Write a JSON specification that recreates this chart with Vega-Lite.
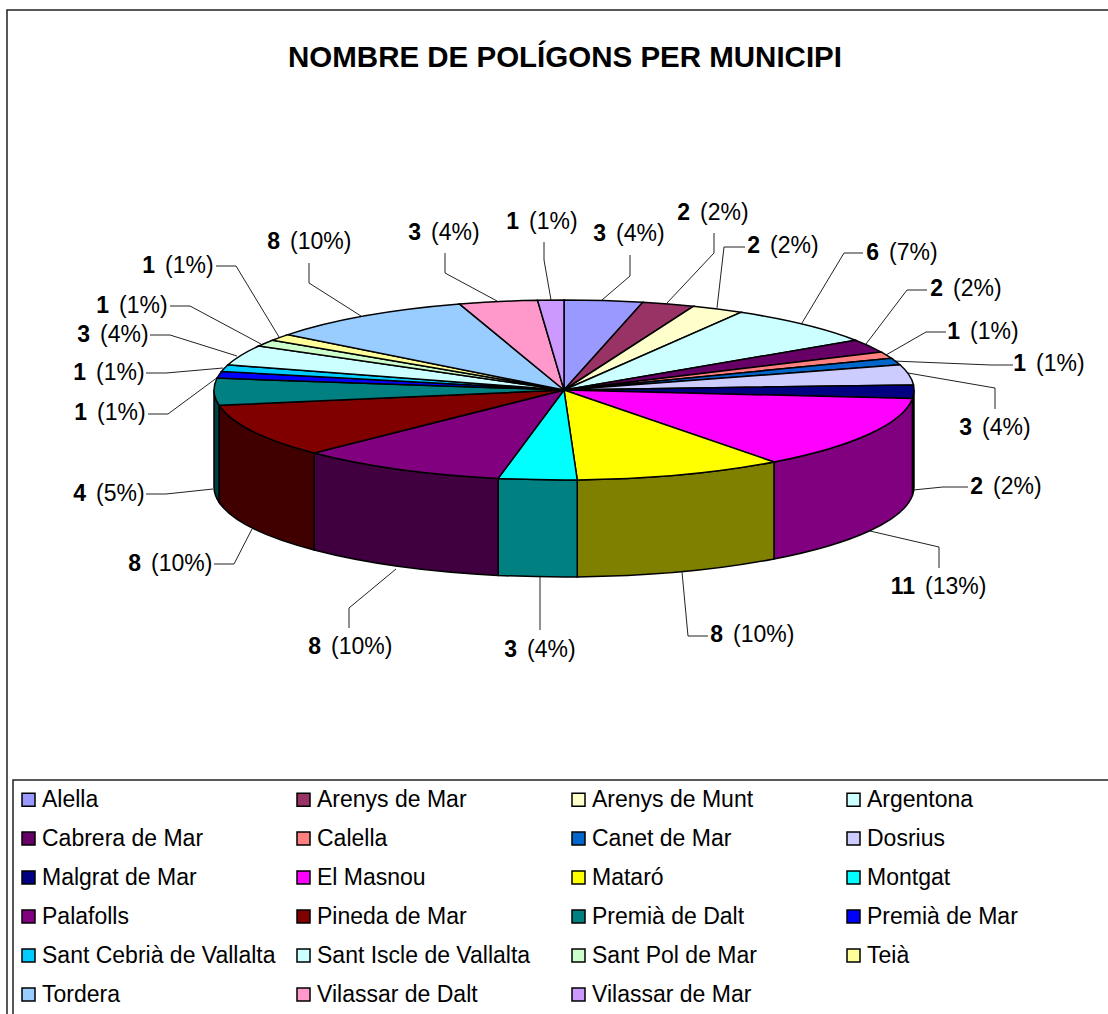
{
"$schema":"https://vega.github.io/schema/vega-lite/v6.json",
"width":1108,"height":1014,"padding":0,"autosize":{"type":"none"},"background":"white",
"config":{"view":{"stroke":null},"text":{"font":"Liberation Sans"}},
"title":{"text":"NOMBRE DE POLÍGONS PER MUNICIPI","font":"Liberation Sans","fontSize":29.5,"fontWeight":"bold","color":"black","anchor":"middle","frame":"group","baseline":"alphabetic","offset":-96,"dx":11},
"data":{"values":[
{"ordre":0,"municipi":"Alella","poligons":3},
{"ordre":1,"municipi":"Arenys de Mar","poligons":2},
{"ordre":2,"municipi":"Arenys de Munt","poligons":2},
{"ordre":3,"municipi":"Argentona","poligons":6},
{"ordre":4,"municipi":"Cabrera de Mar","poligons":2},
{"ordre":5,"municipi":"Calella","poligons":1},
{"ordre":6,"municipi":"Canet de Mar","poligons":1},
{"ordre":7,"municipi":"Dosrius","poligons":3},
{"ordre":8,"municipi":"Malgrat de Mar","poligons":2},
{"ordre":9,"municipi":"El Masnou","poligons":11},
{"ordre":10,"municipi":"Mataró","poligons":8},
{"ordre":11,"municipi":"Montgat","poligons":3},
{"ordre":12,"municipi":"Palafolls","poligons":8},
{"ordre":13,"municipi":"Pineda de Mar","poligons":8},
{"ordre":14,"municipi":"Premià de Dalt","poligons":4},
{"ordre":15,"municipi":"Premià de Mar","poligons":1},
{"ordre":16,"municipi":"Sant Cebrià de Vallalta","poligons":1},
{"ordre":17,"municipi":"Sant Iscle de Vallalta","poligons":3},
{"ordre":18,"municipi":"Sant Pol de Mar","poligons":1},
{"ordre":19,"municipi":"Teià","poligons":1},
{"ordre":20,"municipi":"Tordera","poligons":8},
{"ordre":21,"municipi":"Vilassar de Dalt","poligons":3},
{"ordre":22,"municipi":"Vilassar de Mar","poligons":1}
]},
"transform":[
{"stack":"poligons","sort":[{"field":"ordre"}],"as":["p0","p1"]},
{"joinaggregate":[{"op":"sum","field":"poligons","as":"total"}]},
{"calculate":"'(' + round(datum.poligons/datum.total*100) + '%)'","as":"pct"},
{"calculate":"datum.p0/datum.total*2*PI","as":"a0"},
{"calculate":"datum.p1/datum.total*2*PI","as":"a1"},
{"calculate":"'M564,390L'+round((564+350*sin(datum.a0))*100)/100+','+round((390-90*cos(datum.a0))*100)/100+'A350,90,0,0,1,'+round((564+350*sin(datum.a1))*100)/100+','+round((390-90*cos(datum.a1))*100)/100+'Z'","as":"tall"},
{"calculate":"max(datum.a0,PI/2)","as":"s0"},
{"calculate":"min(datum.a1,3*PI/2)","as":"s1"},
{"calculate":"datum.s1>datum.s0 ? 'M'+round((564+350*sin(datum.s0))*100)/100+','+round((390-90*cos(datum.s0))*100)/100+'A350,90,0,0,1,'+round((564+350*sin(datum.s1))*100)/100+','+round((390-90*cos(datum.s1))*100)/100+'L'+round((564+350*sin(datum.s1))*100)/100+','+round((487-90*cos(datum.s1))*100)/100+'A350,90,0,0,0,'+round((564+350*sin(datum.s0))*100)/100+','+round((487-90*cos(datum.s0))*100)/100+'Z' : 'M0,0'","as":"lateral"}
],
"layer":[
{"mark":{"type":"rect","fill":null,"stroke":"#222222","strokeWidth":1.5},
 "encoding":{
 "x":{"datum":7,"type":"quantitative","scale":{"domain":[0,1108],"range":[0,1108]},"axis":null},
 "x2":{"datum":1130},
 "y":{"datum":10,"type":"quantitative","scale":{"domain":[0,1014],"range":[0,1014]},"axis":null},
 "y2":{"datum":1030}},
 "transform":[{"filter":"datum.ordre==0"}]},
{"mark":{"type":"rect","fill":"white","stroke":"#222222","strokeWidth":1.5},
 "encoding":{
 "x":{"datum":13,"type":"quantitative","scale":{"domain":[0,1108],"range":[0,1108]},"axis":null},
 "x2":{"datum":1130},
 "y":{"datum":780,"type":"quantitative","scale":{"domain":[0,1014],"range":[0,1014]},"axis":null},
 "y2":{"datum":1030}},
 "transform":[{"filter":"datum.ordre==0"}]},
{"mark":{"type":"point","filled":false,"opacity":1,"stroke":"#222222","strokeWidth":1},
 "encoding":{
 "x":{"datum":0,"type":"quantitative","scale":{"domain":[0,1108],"range":[0,1108]},"axis":null},
 "y":{"datum":0,"type":"quantitative","scale":{"domain":[0,1014],"range":[0,1014]},"axis":null},
 "size":{"value":4},
 "shape":{"field":"municipi","type":"nominal","legend":null,"scale":{
  "domain":["Alella","Arenys de Mar","Arenys de Munt","Argentona","Cabrera de Mar","Calella","Canet de Mar","Dosrius","Malgrat de Mar","El Masnou","Mataró","Montgat","Palafolls","Pineda de Mar","Premià de Dalt","Premià de Mar","Sant Cebrià de Vallalta","Sant Iscle de Vallalta","Sant Pol de Mar","Teià","Tordera","Vilassar de Dalt","Vilassar de Mar"],
  "range":["M630,255L630,276L602,300","M714,233L714,253L667,303","M745,247L724,247L717,308","M863,253L844,253L802,323","M927,290L907,290L866,344","M946,332L926,332L886,355","M1013,365L991,365L893,361","M995,409L995,388L908,373","M968,487L943,487L913,490","M939,568L939,547L870,531","M708,636L688,636L682,572","M540,630L540,610L540,577","M349,628L349,608L396,569","M214,564L234,564L252,529","M146,494L166,494L213,489","M148,414L168,414L218,377","M146,373L166,373L223,368","M150,335L170,335L237,356","M170,306L190,306L261,344","M216,266L236,266L279,337","M309,263L309,283L361,316","M445,253L445,273L497,301","M544,242L544,260L551,300"]}}}},
{"transform":[{"filter":"datum.s1>datum.s0"}],
 "mark":{"type":"point","filled":true,"opacity":1,"stroke":"black","strokeWidth":1.5},
 "encoding":{
 "x":{"datum":0,"type":"quantitative","scale":{"domain":[0,1108],"range":[0,1108]},"axis":null},
 "y":{"datum":0,"type":"quantitative","scale":{"domain":[0,1014],"range":[0,1014]},"axis":null},
 "size":{"value":4},
 "order":{"field":"ordre"},
 "shape":{"field":"lateral","type":"nominal","scale":null,"legend":null},
 "fill":{"field":"municipi","type":"nominal","legend":null,"scale":{
  "domain":["Alella","Arenys de Mar","Arenys de Munt","Argentona","Cabrera de Mar","Calella","Canet de Mar","Dosrius","Malgrat de Mar","El Masnou","Mataró","Montgat","Palafolls","Pineda de Mar","Premià de Dalt","Premià de Mar","Sant Cebrià de Vallalta","Sant Iscle de Vallalta","Sant Pol de Mar","Teià","Tordera","Vilassar de Dalt","Vilassar de Mar"],
  "range":["#4C4C80","#4D1A33","#808066","#668080","#330033","#804040","#003366","#666680","#000040","#800080","#808000","#008080","#400040","#400000","#004040","#000080","#006680","#668080","#668066","#80804D","#4D6680","#804D66","#664D80"]}}}},
{"mark":{"type":"point","filled":true,"opacity":1,"stroke":"black","strokeWidth":1.5},
 "encoding":{
 "x":{"datum":0,"type":"quantitative","scale":{"domain":[0,1108],"range":[0,1108]},"axis":null},
 "y":{"datum":0,"type":"quantitative","scale":{"domain":[0,1014],"range":[0,1014]},"axis":null},
 "size":{"value":4},
 "order":{"field":"ordre"},
 "shape":{"field":"tall","type":"nominal","scale":null,"legend":null},
 "fill":{"field":"municipi","type":"nominal","scale":{
  "domain":["Alella","Arenys de Mar","Arenys de Munt","Argentona","Cabrera de Mar","Calella","Canet de Mar","Dosrius","Malgrat de Mar","El Masnou","Mataró","Montgat","Palafolls","Pineda de Mar","Premià de Dalt","Premià de Mar","Sant Cebrià de Vallalta","Sant Iscle de Vallalta","Sant Pol de Mar","Teià","Tordera","Vilassar de Dalt","Vilassar de Mar"],
  "range":["#9999FF","#993366","#FFFFCC","#CCFFFF","#660066","#FF8080","#0066CC","#CCCCFF","#000080","#FF00FF","#FFFF00","#00FFFF","#800080","#800000","#008080","#0000FF","#00CCFF","#CCFFFF","#CCFFCC","#FFFF99","#99CCFF","#FF99CC","#CC99FF"]},
  "legend":{"orient":"none","legendX":17,"legendY":788,"direction":"horizontal","columns":4,"title":null,"gridAlign":"all","columnPadding":16,"rowPadding":15,"symbolType":"square","symbolSize":169,"symbolStrokeColor":"black","symbolStrokeWidth":1.5,"symbolOpacity":1,"labelFont":"Liberation Sans","labelFontSize":23,"labelColor":"black","labelLimit":300,"labelOffset":2,"padding":0}}}},
{"mark":{"type":"text","align":"right","baseline":"middle","fontWeight":"bold","fontSize":23,"font":"Liberation Sans","dx":-5,"color":"black"},
 "encoding":{
 "x":{"field":"ordre","type":"quantitative","axis":null,"scale":{"zero":false,"nice":false,"domain":[0,1,2,3,4,5,6,7,8,9,10,11,12,13,14,15,16,17,18,19,20,21,22],"range":[611,695,765,884,948,965,1031,977,988,920,728,522,326,146,91,92,91,95,114,160,285,426,524]}},
 "y":{"field":"ordre","type":"quantitative","axis":null,"scale":{"zero":false,"nice":false,"domain":[0,1,2,3,4,5,6,7,8,9,10,11,12,13,14,15,16,17,18,19,20,21,22],"range":[234,213,246,253,289,332,364,428,487,587,635,650,647,564,494,413,373,335,306,266,242,233,222]}},
 "text":{"field":"poligons","type":"quantitative"}}},
{"mark":{"type":"text","align":"left","baseline":"middle","fontSize":23,"font":"Liberation Sans","dx":5,"color":"black"},
 "encoding":{
 "x":{"field":"ordre","type":"quantitative","axis":null,"scale":{"zero":false,"nice":false,"domain":[0,1,2,3,4,5,6,7,8,9,10,11,12,13,14,15,16,17,18,19,20,21,22],"range":[611,695,765,884,948,965,1031,977,988,920,728,522,326,146,91,92,91,95,114,160,285,426,524]}},
 "y":{"field":"ordre","type":"quantitative","axis":null,"scale":{"zero":false,"nice":false,"domain":[0,1,2,3,4,5,6,7,8,9,10,11,12,13,14,15,16,17,18,19,20,21,22],"range":[234,213,246,253,289,332,364,428,487,587,635,650,647,564,494,413,373,335,306,266,242,233,222]}},
 "text":{"field":"pct","type":"nominal"}}}
],
"resolve":{"scale":{"x":"independent","y":"independent","fill":"independent","shape":"independent"},"legend":{"fill":"independent"}}
}
